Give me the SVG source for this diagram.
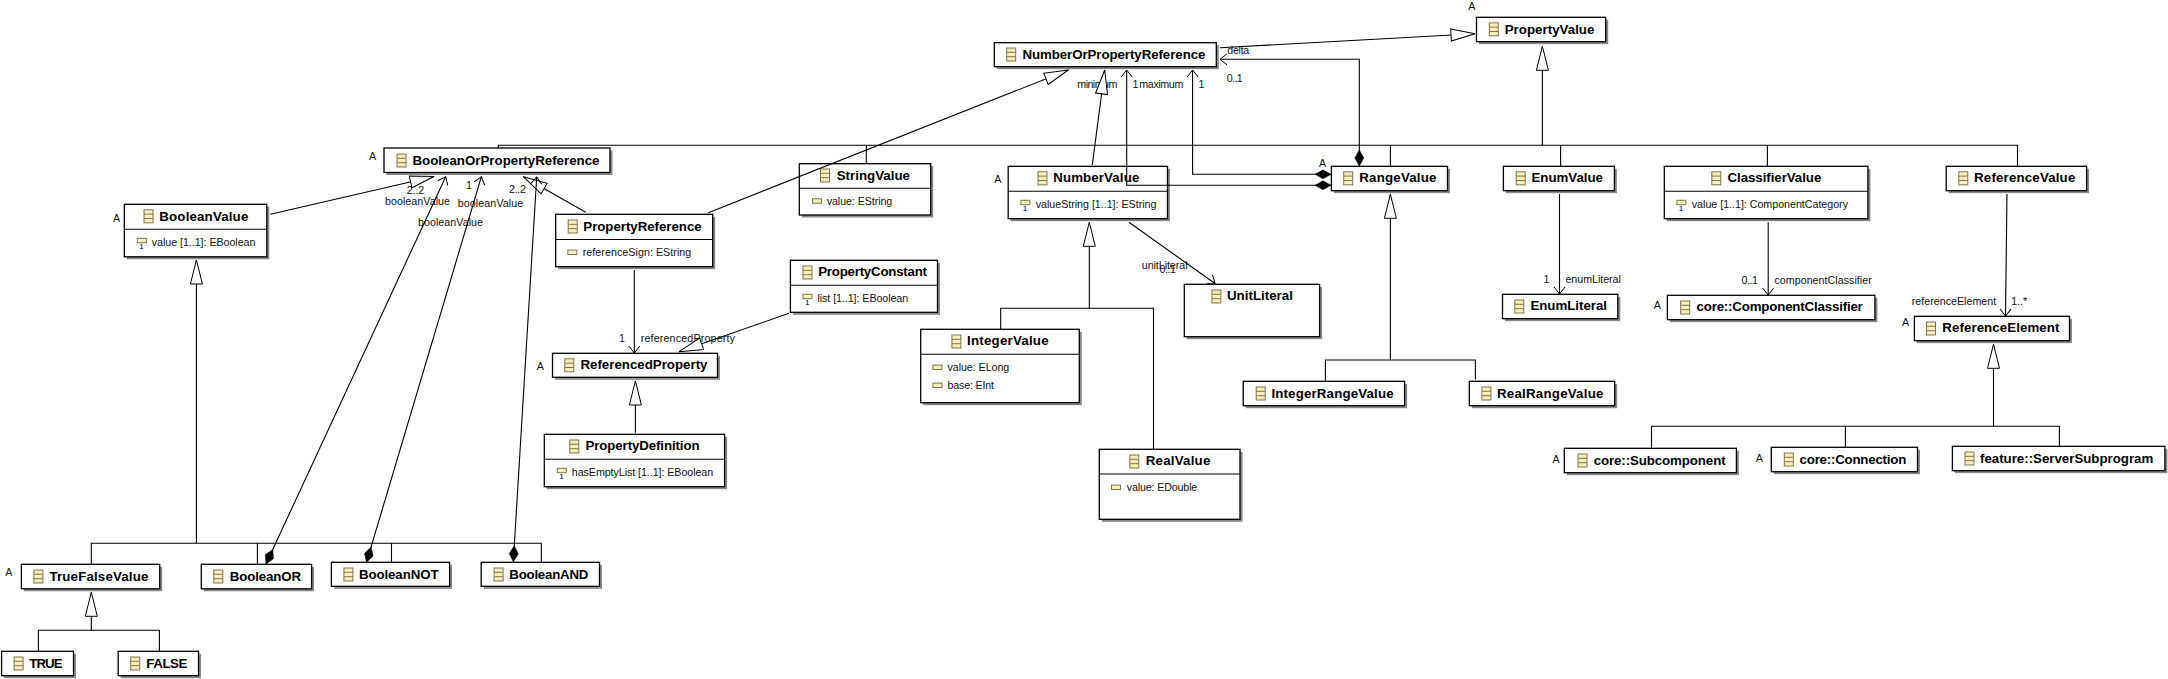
<svg xmlns="http://www.w3.org/2000/svg" xmlns:xlink="http://www.w3.org/1999/xlink" width="2168" height="679" viewBox="0 0 2168 679">
<style>
text{font-family:"Liberation Sans",Arial,sans-serif;fill:#000}
.t{font-size:13.3px;font-weight:bold}
.a,.l{font-size:10.7px;fill:#111}
.m{font-size:10.7px;text-anchor:middle;fill:#111}
.n{font-size:7px;font-weight:bold;text-anchor:middle;fill:#24406e}
.s{fill:#8a8a8a;stroke:none}
.b{fill:#fff;stroke:#000;stroke-width:1.3}
.d{fill:none;stroke:#000;stroke-width:1.1}
.c{fill:none;stroke:#000;stroke-width:1.1}
.g{marker-end:url(#tri)}
.o{marker-end:url(#open)}
.h{marker-start:url(#dia);marker-end:url(#open)}
.ic{fill:#f6eebb;stroke:#84744a;stroke-width:1}
</style>
<defs>
<marker id="tri" markerUnits="userSpaceOnUse" markerWidth="28" markerHeight="16" refX="25" refY="8" orient="auto"><path d="M1,2 L25,8 L1,14 Z" fill="#fff" stroke="#000" stroke-width="1"/></marker>
<marker id="open" markerUnits="userSpaceOnUse" markerWidth="14" markerHeight="14" refX="10" refY="7" orient="auto"><path d="M3,1.5 L10,7 L3,12.5" fill="none" stroke="#000" stroke-width="1"/></marker>
<marker id="dia" markerUnits="userSpaceOnUse" markerWidth="18" markerHeight="12" refX="0" refY="6" orient="auto"><path d="M0,6 L8,1.5 L16,6 L8,10.5 Z" fill="#000" stroke="#000" stroke-width="0.5"/></marker>
<g id="ci"><rect class="ic" x="-4.5" y="-6.5" width="9" height="13"/><path class="ic" d="M-4.5,-2.2 H4.5 M-4.5,2.2 H4.5"/></g>
<rect id="ai" class="ic" x="-4.5" y="-2.2" width="9" height="4.4"/>
</defs>
<g id="nodes">
<g id="BooleanOrPropertyReference"><rect class="s" x="386.5" y="150.5" width="226" height="24.5"/><rect class="b" x="384" y="148" width="226" height="24.5"/><use href="#ci" x="401.5" y="160.5"/><text class="t" x="412.5" y="165" textLength="187">BooleanOrPropertyReference</text></g>
<g id="BooleanValue"><rect class="s" x="126.8" y="206.8" width="142.5" height="52.5"/><rect class="b" x="124.3" y="204.3" width="142.5" height="52.5"/><path class="d" d="M124.3,229.3 H266.8"/><use href="#ci" x="148.5" y="216.3"/><text class="t" x="159.3" y="221" textLength="89">BooleanValue</text><use href="#ai" x="141.8" y="240.5"/><text class="n" x="141.5" y="248.7">1</text><text class="a" x="151.8" y="246" textLength="103.6">value [1..1]: EBoolean</text></g>
<g id="TrueFalseValue"><rect class="s" x="23.9" y="566.8" width="138.3" height="24.5"/><rect class="b" x="21.4" y="564.3" width="138.3" height="24.5"/><use href="#ci" x="38.4" y="576.5"/><text class="t" x="49.4" y="580.5" textLength="99">TrueFalseValue</text></g>
<g id="BooleanOR"><rect class="s" x="203.8" y="566.8" width="110.3" height="24.5"/><rect class="b" x="201.3" y="564.3" width="110.3" height="24.5"/><use href="#ci" x="218.3" y="576.5"/><text class="t" x="229.7" y="580.5" textLength="71.3">BooleanOR</text></g>
<g id="BooleanNOT"><rect class="s" x="333.9" y="564.8" width="118.2" height="24"/><rect class="b" x="331.4" y="562.3" width="118.2" height="24"/><use href="#ci" x="348.4" y="574.5"/><text class="t" x="359" y="578.5" textLength="79.5">BooleanNOT</text></g>
<g id="BooleanAND"><rect class="s" x="483.7" y="564.8" width="118.3" height="24"/><rect class="b" x="481.2" y="562.3" width="118.3" height="24"/><use href="#ci" x="498.6" y="574.5"/><text class="t" x="509.3" y="578.5" textLength="79.1">BooleanAND</text></g>
<g id="TRUE"><rect class="s" x="4.1" y="653.8" width="71.9" height="24.4"/><rect class="b" x="1.6" y="651.3" width="71.9" height="24.4"/><use href="#ci" x="18.6" y="663.5"/><text class="t" x="29.3" y="667.5" textLength="33.2">TRUE</text></g>
<g id="FALSE"><rect class="s" x="120.7" y="653.8" width="80.3" height="24.4"/><rect class="b" x="118.2" y="651.3" width="80.3" height="24.4"/><use href="#ci" x="135.2" y="663.5"/><text class="t" x="146.3" y="667.5" textLength="41.1">FALSE</text></g>
<g id="PropertyReference"><rect class="s" x="558.2" y="216.8" width="157" height="52.4"/><rect class="b" x="555.7" y="214.3" width="157" height="52.4"/><path class="d" d="M555.7,239.5 H712.7"/><use href="#ci" x="572.7" y="226.5"/><text class="t" x="583.3" y="230.7" textLength="118.4">PropertyReference</text><use href="#ai" x="572.3" y="252.3"/><text class="a" x="582.7" y="256" textLength="108.6">referenceSign: EString</text></g>
<g id="ReferencedProperty"><rect class="s" x="555" y="355.8" width="165" height="24"/><rect class="b" x="552.5" y="353.3" width="165" height="24"/><use href="#ci" x="569.3" y="365.3"/><text class="t" x="580.4" y="369.3" textLength="127.1">ReferencedProperty</text></g>
<g id="PropertyConstant"><rect class="s" x="792.9" y="262.8" width="147.1" height="52"/><rect class="b" x="790.4" y="260.3" width="147.1" height="52"/><path class="d" d="M790.4,285.3 H937.5"/><use href="#ci" x="807.5" y="272.5"/><text class="t" x="818.2" y="276.3" textLength="108.8">PropertyConstant</text><use href="#ai" x="807.5" y="296.5"/><text class="n" x="807.3" y="305">1</text><text class="a" x="817.5" y="302" textLength="90.7">list [1..1]: EBoolean</text></g>
<g id="PropertyDefinition"><rect class="s" x="546.8" y="436.8" width="180.3" height="52.4"/><rect class="b" x="544.3" y="434.3" width="180.3" height="52.4"/><path class="d" d="M544.3,459.3 H724.6"/><use href="#ci" x="574.3" y="446.5"/><text class="t" x="585.4" y="450.3" textLength="114.2">PropertyDefinition</text><use href="#ai" x="561.8" y="470.5"/><text class="n" x="561.5" y="479">1</text><text class="a" x="571.8" y="475.7" textLength="141.4">hasEmptyList [1..1]: EBoolean</text></g>
<g id="StringValue"><rect class="s" x="801.8" y="166.2" width="131.4" height="51.3"/><rect class="b" x="799.3" y="163.7" width="131.4" height="51.3"/><path class="d" d="M799.3,188.3 H930.7"/><use href="#ci" x="825" y="175.5"/><text class="t" x="836.7" y="179.5" textLength="73.3">StringValue</text><use href="#ai" x="817" y="201"/><text class="a" x="826.7" y="205" textLength="65.6">value: EString</text></g>
<g id="NumberValue"><rect class="s" x="1010.7" y="168.8" width="159.3" height="52.4"/><rect class="b" x="1008.2" y="166.3" width="159.3" height="52.4"/><path class="d" d="M1008.2,191.3 H1167.5"/><use href="#ci" x="1042.5" y="178.3"/><text class="t" x="1053.2" y="182" textLength="86.1">NumberValue</text><use href="#ai" x="1025.4" y="202.5"/><text class="n" x="1025" y="211">1</text><text class="a" x="1035.7" y="208" textLength="120.7">valueString [1..1]: EString</text></g>
<g id="IntegerValue"><rect class="s" x="923.2" y="331.8" width="158.6" height="73.4"/><rect class="b" x="920.7" y="329.3" width="158.6" height="73.4"/><path class="d" d="M920.7,354.3 H1079.3"/><use href="#ci" x="956.4" y="341.5"/><text class="t" x="967" y="345.3" textLength="81.6">IntegerValue</text><use href="#ai" x="937.5" y="367.3"/><text class="a" x="947.5" y="370.7" textLength="61.8">value: ELong</text><use href="#ai" x="937.5" y="385.3"/><text class="a" x="947.5" y="388.7" textLength="46.5">base: EInt</text></g>
<g id="RealValue"><rect class="s" x="1101.8" y="451.8" width="140.7" height="70"/><rect class="b" x="1099.3" y="449.3" width="140.7" height="70"/><path class="d" d="M1099.3,474 H1240"/><use href="#ci" x="1134.3" y="461.5"/><text class="t" x="1145.7" y="465.3" textLength="64.6">RealValue</text><use href="#ai" x="1116" y="487.3"/><text class="a" x="1126.7" y="491" textLength="70.6">value: EDouble</text></g>
<g id="UnitLiteral"><rect class="s" x="1186.8" y="286.8" width="135.3" height="52.4"/><rect class="b" x="1184.3" y="284.3" width="135.3" height="52.4"/><use href="#ci" x="1216.4" y="296.5"/><text class="t" x="1227" y="300.3" textLength="65.9">UnitLiteral</text></g>
<g id="RangeValue"><rect class="s" x="1333.9" y="168.8" width="116.1" height="24.4"/><rect class="b" x="1331.4" y="166.3" width="116.1" height="24.4"/><use href="#ci" x="1348.2" y="178.3"/><text class="t" x="1359.3" y="182.3" textLength="77.1">RangeValue</text></g>
<g id="NumberOrPropertyReference"><rect class="s" x="996.8" y="45.2" width="222" height="24"/><rect class="b" x="994.3" y="42.7" width="222" height="24"/><use href="#ci" x="1011.2" y="54.5"/><text class="t" x="1022.4" y="58.5" textLength="183">NumberOrPropertyReference</text></g>
<g id="PropertyValue"><rect class="s" x="1479" y="19.8" width="129.2" height="24.4"/><rect class="b" x="1476.5" y="17.3" width="129.2" height="24.4"/><use href="#ci" x="1493.8" y="29.3"/><text class="t" x="1504.7" y="33.5" textLength="89.7">PropertyValue</text></g>
<g id="EnumValue"><rect class="s" x="1505.9" y="168.8" width="111" height="24.4"/><rect class="b" x="1503.4" y="166.3" width="111" height="24.4"/><use href="#ci" x="1520.7" y="178.3"/><text class="t" x="1531.5" y="182.3" textLength="71.5">EnumValue</text></g>
<g id="EnumLiteral"><rect class="s" x="1505" y="296.8" width="115.3" height="24.4"/><rect class="b" x="1502.5" y="294.3" width="115.3" height="24.4"/><use href="#ci" x="1519.3" y="306.5"/><text class="t" x="1530.4" y="310.3" textLength="76.6">EnumLiteral</text></g>
<g id="IntegerRangeValue"><rect class="s" x="1245.7" y="383.8" width="161.4" height="24.4"/><rect class="b" x="1243.2" y="381.3" width="161.4" height="24.4"/><use href="#ci" x="1260.7" y="393.5"/><text class="t" x="1271.4" y="397.5" textLength="122.2">IntegerRangeValue</text></g>
<g id="RealRangeValue"><rect class="s" x="1471.8" y="383.8" width="145.4" height="24.4"/><rect class="b" x="1469.3" y="381.3" width="145.4" height="24.4"/><use href="#ci" x="1486.4" y="393.5"/><text class="t" x="1497" y="397.5" textLength="106.4">RealRangeValue</text></g>
<g id="ClassifierValue"><rect class="s" x="1666.8" y="168.8" width="203.6" height="52.4"/><rect class="b" x="1664.3" y="166.3" width="203.6" height="52.4"/><path class="d" d="M1664.3,191.3 H1867.9"/><use href="#ci" x="1716.3" y="178.3"/><text class="t" x="1727.5" y="182" textLength="93.8">ClassifierValue</text><use href="#ai" x="1681.4" y="202.5"/><text class="n" x="1681" y="211">1</text><text class="a" x="1691.8" y="208" textLength="156.2">value [1..1]: ComponentCategory</text></g>
<g id="ReferenceValue"><rect class="s" x="1948.7" y="168.8" width="140.4" height="24.4"/><rect class="b" x="1946.2" y="166.3" width="140.4" height="24.4"/><use href="#ci" x="1963.3" y="178.3"/><text class="t" x="1974.1" y="182" textLength="101.2">ReferenceValue</text></g>
<g id="core-ComponentClassifier"><rect class="s" x="1669.9" y="297.8" width="207.5" height="24.4"/><rect class="b" x="1667.4" y="295.3" width="207.5" height="24.4"/><use href="#ci" x="1685.2" y="307.5"/><text class="t" x="1696.5" y="311.3" textLength="166.3">core::ComponentClassifier</text></g>
<g id="ReferenceElement"><rect class="s" x="1916.9" y="318.8" width="155.1" height="24.4"/><rect class="b" x="1914.4" y="316.3" width="155.1" height="24.4"/><use href="#ci" x="1931" y="328.5"/><text class="t" x="1942.3" y="332.3" textLength="117.1">ReferenceElement</text></g>
<g id="core-Subcomponent"><rect class="s" x="1566.8" y="450.8" width="172.1" height="24.4"/><rect class="b" x="1564.3" y="448.3" width="172.1" height="24.4"/><use href="#ci" x="1582.5" y="460.5"/><text class="t" x="1593.7" y="464.5" textLength="131.9">core::Subcomponent</text></g>
<g id="core-Connection"><rect class="s" x="1773.8" y="449.8" width="146.2" height="24.4"/><rect class="b" x="1771.3" y="447.3" width="146.2" height="24.4"/><use href="#ci" x="1788.8" y="459.5"/><text class="t" x="1799.6" y="463.5" textLength="106.7">core::Connection</text></g>
<g id="feature-ServerSubprogram"><rect class="s" x="1954.9" y="448.8" width="212.5" height="24.4"/><rect class="b" x="1952.4" y="446.3" width="212.5" height="24.4"/><use href="#ci" x="1969.5" y="458.5"/><text class="t" x="1980" y="462.5" textLength="173.3">feature::ServerSubprogram</text></g>
</g>
<g id="labels">
<text class="m" x="372.5" y="160">A</text>
<text class="m" x="116.5" y="221.7">A</text>
<text class="m" x="8.7" y="575.7">A</text>
<text class="m" x="540.4" y="370">A</text>
<text class="m" x="997.7" y="183.3">A</text>
<text class="m" x="1322.5" y="166.7">A</text>
<text class="m" x="1471.7" y="10">A</text>
<text class="m" x="1657.3" y="309">A</text>
<text class="m" x="1905.5" y="325.7">A</text>
<text class="m" x="1556" y="463">A</text>
<text class="m" x="1759.3" y="462">A</text>
<text class="l" x="406.7" y="194" textLength="17.6">2..2</text>
<text class="l" x="385" y="205.3" textLength="65">booleanValue</text>
<text class="l" x="466" y="189.3">1</text>
<text class="l" x="457.7" y="207.3" textLength="65.6">booleanValue</text>
<text class="l" x="509" y="192.7" textLength="17">2..2</text>
<text class="l" x="418" y="226" textLength="65">booleanValue</text>
<text class="l" x="619" y="341.7">1</text>
<text class="l" x="640.7" y="341.7" textLength="94.3">referencedProperty</text>
<text class="l" x="1227.3" y="54" textLength="22">delta</text>
<text class="l" x="1226.7" y="81.7" textLength="16">0..1</text>
<text class="l" x="1077.3" y="88.3" textLength="40">minimum</text>
<text class="l" x="1132.5" y="88.3">1</text>
<text class="l" x="1139.3" y="88.3" textLength="44">maximum</text>
<text class="l" x="1198.5" y="88.3">1</text>
<text class="l" x="1141.8" y="268.7" textLength="45.7">unitLiteral</text>
<text class="l" x="1159.6" y="273.3" textLength="16.4">0..1</text>
<text class="l" x="1543.5" y="282.7">1</text>
<text class="l" x="1565.4" y="282.7" textLength="55.5">enumLiteral</text>
<text class="l" x="1741.5" y="284" textLength="16.5">0..1</text>
<text class="l" x="1774.4" y="284" textLength="97.4">componentClassifier</text>
<text class="l" x="1911.7" y="305" textLength="84.5">referenceElement</text>
<text class="l" x="2011.3" y="305" textLength="15.9">1..*</text>
</g>
<g id="connectors">
<path class="c" d="M91.3,564 V543.3 H541.3 V562 M257.4,543.3 V564 M391.5,543.3 V562"/>
<path class="c" d="M38.4,651 V630.3 H159.4 V651"/>
<path class="c" d="M1000.7,329 V308.3 H1153.5 V449"/>
<path class="c" d="M1325.4,381 V360 H1475.4 V379.5"/>
<path class="c" d="M498.3,148 V145.3 H2017.5 V166 M866.3,145.3 V163.7 M1390.4,145.3 V166 M1560.6,145.3 V166 M1767.4,145.3 V166"/>
<path class="c" d="M1651.5,448 V426.3 H2059.4 V446 M1845.4,426.3 V447"/>
<path class="c g" d="M196.4,543.3 V260"/>
<path class="c g" d="M91.3,630.3 V592.3"/>
<path class="c g" d="M635.4,432.7 V381"/>
<path class="c g" d="M1089.3,308.3 V222.3"/>
<path class="c g" d="M1390.4,360 V194.3"/>
<path class="c g" d="M1542.4,145.3 V46.3"/>
<path class="c g" d="M1993.5,426.3 V344.3"/>
<path class="c g" d="M270.4,214.3 L434,176.5"/>
<path class="c g" d="M585.7,212.3 L523.3,176.7"/>
<path class="c g" d="M708.3,212.7 L1068.3,70"/>
<path class="c g" d="M1220,47.7 L1475,33.7"/>
<path class="c g" d="M1092.3,165 L1104.7,70"/>
<path class="c g" d="M789,313.3 L679,351.7"/>
<path class="c h" d="M266,564 L445.7,176.7"/>
<path class="c h" d="M366.5,562.3 L481.4,176.7"/>
<path class="c h" d="M513.3,561.7 L536.7,177"/>
<path class="c h" d="M1331,174.3 H1192.6 V70"/>
<path class="c h" d="M1331,185.3 H1126.7 V70"/>
<path class="c h" d="M1359.3,166 V59.3 H1220"/>
<path class="c o" d="M634.3,270 V353"/>
<path class="c o" d="M1129,222.3 L1215,283.5"/>
<path class="c o" d="M1559.5,194 V294"/>
<path class="c o" d="M1768.2,222.3 V295"/>
<path class="c o" d="M2007,194 L2005.5,316"/>
</g>
</svg>
